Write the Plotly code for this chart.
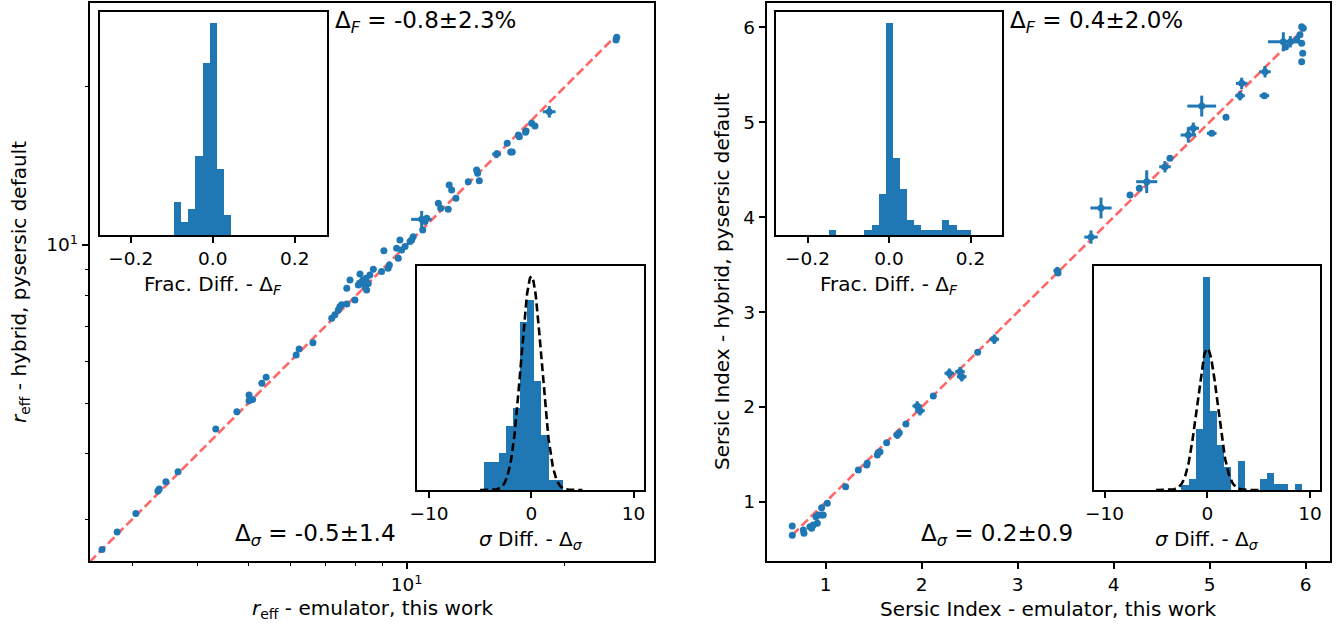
import numpy as np
import plotly.graph_objects as go

BLUE = "#1f77b4"
RED = "#ff6666"
FONT = "DejaVu Sans"

# ---------------- r_eff: emulator vs hybrid ----------------
reff_emulator = [2.63, 2.81, 3.05, 3.36, 3.38, 3.48, 3.67, 4.33, 4.75, 5.01, 5.01, 5.09, 5.30, 5.40,
                 6.16, 6.24, 6.63, 7.20, 7.30, 7.41, 7.46, 7.52, 7.69, 7.97, 7.69, 7.80, 8.15, 8.51,
                 8.37, 8.45, 8.33, 8.39, 8.21, 8.09, 8.64, 8.96, 9.27, 9.22, 9.64, 9.05, 9.71, 9.57,
                 9.78, 9.93, 10.29, 10.22, 10.15, 10.73, 10.84, 10.92, 10.68, 11.49, 11.61, 12.00,
                 12.41, 12.05, 12.18, 13.10, 13.75, 13.59, 13.65, 14.84, 15.54, 15.89, 15.78, 16.32,
                 16.39, 16.88, 16.84, 17.30, 17.55, 18.69, 25.12, 25.04]
reff_hybrid = [2.63, 2.84, 3.08, 3.40, 3.43, 3.54, 3.70, 4.46, 4.81, 5.18, 5.05, 5.08, 5.45, 5.60,
               6.17, 6.34, 6.51, 7.25, 7.36, 7.52, 7.63, 7.69, 7.72, 7.86, 8.27, 8.58, 8.81, 8.77,
               8.64, 8.45, 8.33, 8.21, 8.51, 8.39, 8.99, 8.90, 9.16, 9.03, 9.43, 9.75, 10.22, 9.86,
               9.78, 9.93, 10.37, 10.22, 10.15, 10.68, 11.08, 11.24, 11.19, 12.01, 11.75, 11.70,
               12.27, 13.01, 12.73, 13.20, 13.26, 13.89, 13.70, 14.90, 15.62, 15.03, 15.03, 16.20,
               16.08, 16.49, 16.40, 17.05, 16.85, 17.94, 24.87, 24.58]
reff_emulator_err = [0] * 32 + [0.18] + [0] * 17 + [0.48] + [0] * 10 + [0.29] + [0] * 9 + [0.52] + [0, 0]
reff_hybrid_err = [0] * 32 + [0.18] + [0] * 17 + [0.42] + [0] * 10 + [0.26] + [0] * 9 + [0.45] + [0, 0]
reff_one_to_one = [2.49, 25.1]

# ---------------- Sersic index: emulator vs hybrid ----------------
sersic_emulator = [0.652, 0.652, 0.767, 0.774, 0.836, 0.854, 0.871, 0.899, 0.923, 0.958, 0.975, 0.913,
                   0.958, 1.017, 1.208, 1.340, 1.427, 1.433, 1.548, 1.538, 1.566, 1.635, 1.746, 1.767,
                   1.836, 1.954, 1.982, 2.121, 2.288, 2.399, 2.417, 2.583, 2.756, 3.413, 3.420, 3.764,
                   3.868, 4.170, 4.267, 4.344, 4.534, 4.586, 4.777, 4.829, 5.021, 5.170, 4.917, 5.333,
                   5.316, 5.576, 5.569, 5.767, 5.840, 5.790, 5.975, 5.958, 5.958, 5.969, 5.958, 5.906,
                   5.940]
sersic_hybrid = [0.747, 0.649, 0.705, 0.671, 0.740, 0.723, 0.758, 0.845, 0.863, 0.863, 0.863, 0.776,
                 0.940, 0.986, 1.161, 1.337, 1.389, 1.407, 1.519, 1.495, 1.529, 1.624, 1.705, 1.729,
                 1.821, 2.011, 1.961, 2.116, 2.355, 2.372, 2.319, 2.576, 2.713, 3.435, 3.410, 3.789,
                 4.095, 4.232, 4.302, 4.372, 4.529, 4.618, 4.863, 4.934, 4.881, 5.049, 5.168, 5.407,
                 5.277, 5.529, 5.277, 5.845, 5.845, 5.790, 5.986, 6.003, 5.828, 5.723, 5.635, 5.870,
                 5.920]
sersic_emulator_err = ([0] * 22 + [0.04, 0, 0, 0.05, 0.05, 0, 0.05, 0.05, 0.05, 0, 0.05, 0.04, 0,
                       0.07, 0.11, 0, 0, 0.11, 0.06, 0, 0.08, 0.06, 0.05, 0, 0.15, 0.06, 0.05, 0.06,
                       0.05, 0.16, 0.10] + [0] * 8)
sersic_hybrid_err = ([0] * 22 + [0.04, 0, 0, 0.05, 0.05, 0, 0.05, 0.05, 0.05, 0, 0.05, 0.04, 0,
                     0.07, 0.11, 0, 0, 0.12, 0.06, 0, 0.08, 0.06, 0.02, 0, 0.11, 0.06, 0.05, 0.06,
                     0, 0.10, 0.06] + [0] * 8)
sersic_one_to_one = [0.652, 5.975]

# ---------------- inset histograms ----------------
reff_frac_edges = [-0.0944, -0.0770, -0.0596, -0.0422, -0.0248, -0.0074, 0.0100, 0.0274, 0.0448]
reff_frac_counts = [5, 2, 4, 12, 26, 32, 10, 3]
reff_sigma_edges = [-4.57, -3.87, -3.17, -2.48, -1.78, -1.08, -0.38, 0.31, 1.01, 1.71, 2.41, 3.11]
reff_sigma_density = [0.052, 0.052, 0.070, 0.120, 0.153, 0.315, 0.355, 0.204, 0.103, 0.019, 0.019]

sersic_frac_edges = [-0.1472, -0.1298, -0.1124, -0.0951, -0.0777, -0.0603, -0.0429, -0.0255,
                     -0.0081, 0.0093, 0.0266, 0.0440, 0.0614, 0.0788, 0.0962, 0.1136, 0.1309,
                     0.1483, 0.1657, 0.1831, 0.2005]
sersic_frac_counts = [1, 0, 0, 0, 0, 1, 2, 8, 41, 15, 9, 3, 2, 1, 1, 1, 3, 2, 1, 1]
sersic_sigma_edges = [-2.49, -1.80, -1.11, -0.41, 0.28, 0.97, 1.66, 2.35, 3.05, 3.74, 4.43, 5.12,
                      5.81, 6.51, 7.20, 7.89, 8.58, 9.27]
sersic_sigma_density = [0.016, 0.033, 0.174, 0.603, 0.223, 0.127, 0.066, 0, 0.082, 0, 0, 0.033,
                        0.049, 0.017, 0.017, 0, 0.017]

# reference unit normal drawn over the sigma histograms
norm_mu, norm_sd = 0.0, 1.0
norm_x = np.linspace(-5, 5, 201)
norm_y = np.exp(-0.5 * ((norm_x - norm_mu) / norm_sd) ** 2) / (norm_sd * np.sqrt(2 * np.pi))

reff_labels = {"dF": "-0.8±2.3%", "dsig": "-0.5±1.4"}
sersic_labels = {"dF": "0.4±2.0%", "dsig": "0.2±0.9"}

W, H = 1342, 629


def px_x(p):
    return p / W


def px_y(p):
    return 1 - p / H


fig = go.Figure()


def scatter_panel(x, y, xe, ye, line, ax):
    fig.add_trace(go.Scatter(x=line, y=line, mode="lines",
                             line=dict(color=RED, width=2.6, dash="9px,4px"),
                             xaxis="x" + ax, yaxis="y" + ax, showlegend=False, hoverinfo="skip"))
    fig.add_trace(go.Scatter(x=x, y=y, mode="markers",
                             marker=dict(color=BLUE, size=7, line=dict(width=0)),
                             error_x=dict(type="data", array=xe, visible=True, thickness=3,
                                          width=0, color=BLUE),
                             error_y=dict(type="data", array=ye, visible=True, thickness=3,
                                          width=0, color=BLUE),
                             xaxis="x" + ax, yaxis="y" + ax, showlegend=False))


def hist_bars(edges, heights, ax):
    edges = np.asarray(edges)
    fig.add_trace(go.Bar(x=edges[:-1], y=heights, width=np.diff(edges), offset=0,
                         marker=dict(color=BLUE, line=dict(width=0)),
                         xaxis="x" + ax, yaxis="y" + ax, showlegend=False))


scatter_panel(reff_emulator, reff_hybrid, reff_emulator_err, reff_hybrid_err, reff_one_to_one, "")
scatter_panel(sersic_emulator, sersic_hybrid, sersic_emulator_err, sersic_hybrid_err,
              sersic_one_to_one, "2")

hist_bars(reff_frac_edges, reff_frac_counts, "3")
hist_bars(reff_sigma_edges, reff_sigma_density, "4")
hist_bars(sersic_frac_edges, sersic_frac_counts, "5")
hist_bars(sersic_sigma_edges, sersic_sigma_density, "6")

for ax in ("4", "6"):
    fig.add_trace(go.Scatter(x=norm_x, y=norm_y, mode="lines",
                             line=dict(color="black", width=2.6, dash="8px,4px"),
                             xaxis="x" + ax, yaxis="y" + ax, showlegend=False, hoverinfo="skip"))

tickfont = dict(family=FONT, size=18.5, color="black")
base = dict(showline=True, linecolor="black", linewidth=1.5, mirror=True, ticks="outside",
            ticklen=6.5, tickwidth=1.5, tickcolor="black", showgrid=False, zeroline=False,
            tickfont=tickfont)
no_ticks = dict(showline=True, linecolor="black", linewidth=1.5, mirror=True, ticks="",
                showticklabels=False, showgrid=False, zeroline=False)
minor_log = dict(ticks="outside", ticklen=3.7, tickwidth=1.1, tickcolor="black",
                 tickvals=[3, 4, 5, 6, 7, 8, 9, 20])

main_y0, main_y1 = px_y(561), px_y(3)
top_y = [px_y(235), px_y(11.7)]
bot_y = [px_y(490), px_y(265.7)]

fig.update_layout(
    width=W, height=H, margin=dict(l=0, r=0, t=0, b=0), autosize=False,
    paper_bgcolor="white", plot_bgcolor="white", template="none",
    font=dict(family=FONT, size=18.5, color="black"), bargap=0,
    xaxis=dict(base, type="log", domain=[px_x(90), px_x(654)], range=[0.397, 1.471],
               anchor="y", tickvals=[10], ticktext=["10<sup>1</sup>"], minor=minor_log),
    yaxis=dict(base, type="log", domain=[main_y0, main_y1], range=[0.398, 1.461],
               anchor="x", tickvals=[10], ticktext=["10<sup>1</sup>"], minor=minor_log),
    xaxis2=dict(base, domain=[px_x(767), px_x(1330)], range=[0.389, 6.253], anchor="y2",
                tickvals=[1, 2, 3, 4, 5, 6]),
    yaxis2=dict(base, domain=[main_y0, main_y1], range=[0.379, 6.253], anchor="x2",
                tickvals=[1, 2, 3, 4, 5, 6]),
    xaxis3=dict(base, domain=[px_x(100), px_x(326.7)], range=[-0.275, 0.278], anchor="y3",
                tickvals=[-0.2, 0.0, 0.2], ticktext=["\u22120.2", "0.0", "0.2"]),
    yaxis3=dict(no_ticks, domain=top_y, range=[0, 1.05 * max(reff_frac_counts)], anchor="x3"),
    xaxis4=dict(base, domain=[px_x(417.3), px_x(644.3)], range=[-11.15, 11.05], anchor="y4",
                tickvals=[-10, 0, 10], ticktext=["\u221210", "0", "10"]),
    yaxis4=dict(no_ticks, domain=bot_y,
                range=[0, 1.05 * max(norm_y.max(), max(reff_sigma_density))], anchor="x4"),
    xaxis5=dict(base, domain=[px_x(776), px_x(1002.3)], range=[-0.2773, 0.278], anchor="y5",
                tickvals=[-0.2, 0.0, 0.2], ticktext=["\u22120.2", "0.0", "0.2"]),
    yaxis5=dict(no_ticks, domain=top_y, range=[0, 1.05 * max(sersic_frac_counts)], anchor="x5"),
    xaxis6=dict(base, domain=[px_x(1094.3), px_x(1320)], range=[-11.0, 10.97], anchor="y6",
                tickvals=[-10, 0, 10], ticktext=["\u221210", "0", "10"]),
    yaxis6=dict(no_ticks, domain=bot_y,
                range=[0, 1.05 * max(norm_y.max(), max(sersic_sigma_density))], anchor="x6"),
)

ann = []


def label(text, x, y, size=20, angle=0, xanchor="center"):
    ann.append(dict(text=text, x=x, y=y, xref="paper", yref="paper", showarrow=False,
                    xanchor=xanchor, yanchor="middle", textangle=angle,
                    font=dict(family=FONT, size=size, color="black")))


# axis titles
label("<i>r</i><sub>eff</sub> - emulator, this work", px_x(372), px_y(609))
label("<i>r</i><sub>eff</sub> - hybrid, pysersic default", px_x(20), px_y(282), angle=-90)
label("Sersic Index - emulator, this work", px_x(1048.5), px_y(609))
label("Sersic Index - hybrid, pysersic default", px_x(722), px_y(282), angle=-90)

# inset titles
label("Frac. Diff. - Δ<sub><i>F</i></sub>", px_x(213.4), px_y(285))
label("<i>σ</i> Diff. - Δ<sub><i>σ</i></sub>", px_x(530.8), px_y(540))
label("Frac. Diff. - Δ<sub><i>F</i></sub>", px_x(889), px_y(285))
label("<i>σ</i> Diff. - Δ<sub><i>σ</i></sub>", px_x(1207), px_y(540))

# summary statistics
label("Δ<sub><i>F</i></sub> = " + reff_labels["dF"], px_x(333), px_y(22), size=23, xanchor="left")
label("Δ<sub><i>σ</i></sub> = " + reff_labels["dsig"], px_x(398), px_y(535), size=23, xanchor="right")
label("Δ<sub><i>F</i></sub> = " + sersic_labels["dF"], px_x(1008), px_y(22), size=23, xanchor="left")
label("Δ<sub><i>σ</i></sub> = " + sersic_labels["dsig"], px_x(1075), px_y(535), size=23,
      xanchor="right")

fig.update_layout(annotations=ann)

fig.write_html("out.html")
